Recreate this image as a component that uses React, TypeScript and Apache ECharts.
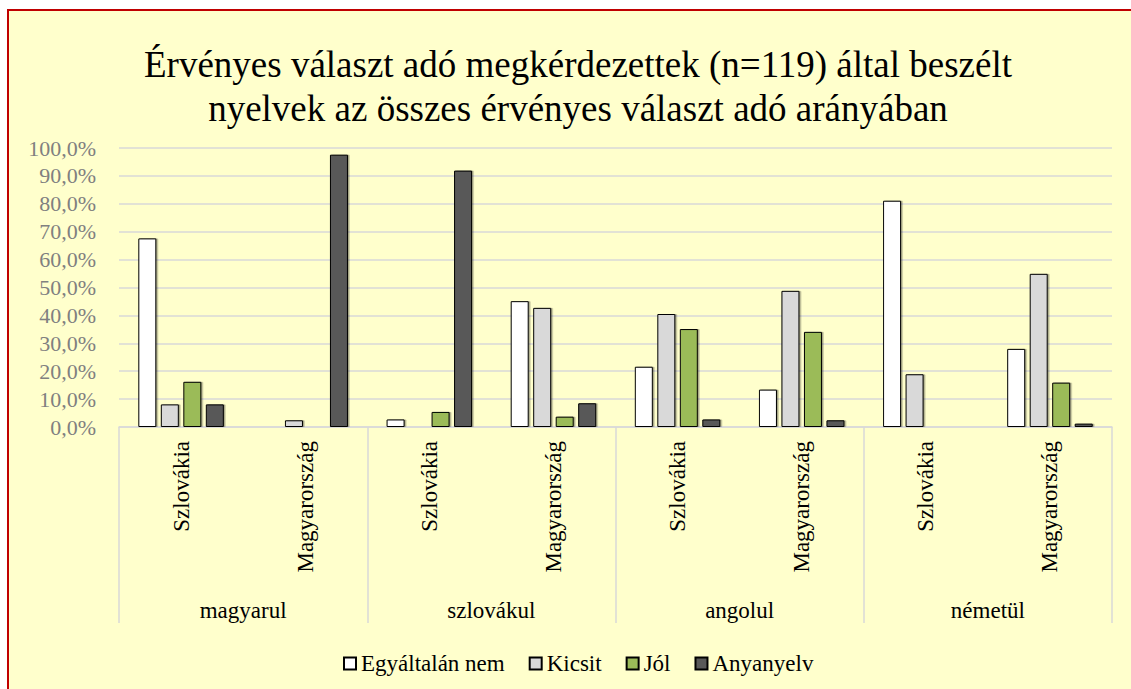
import React, { useEffect, useRef } from "react";
import * as echarts from "echarts";

const titleLines = [
  "Érvényes választ adó megkérdezettek (n=119) által beszélt",
  "nyelvek az összes érvényes választ adó arányában",
];
const groups = ["magyarul", "szlovákul", "angolul", "németül"];
const subCategories = [
  "Szlovákia", "Magyarország",
  "Szlovákia", "Magyarország",
  "Szlovákia", "Magyarország",
  "Szlovákia", "Magyarország",
];
const seriesNames = ["Egyáltalán nem", "Kicsit", "Jól", "Anyanyelv"];
const egyaltalanNem = [67.6, null, 2.7, 45.1, 21.6, 13.4, 81.1, 28.0];
const kicsit = [8.1, 2.4, null, 42.7, 40.5, 48.8, 18.9, 54.9];
const jol = [16.2, null, 5.4, 3.7, 35.1, 34.1, null, 15.9];
const anyanyelv = [8.1, 97.6, 91.9, 8.5, 2.7, 2.4, null, 1.2];
const seriesColors = ["#FFFFFF", "#D9D9D9", "#9BBB59", "#595959"];

const FONT = "'Liberation Serif', 'Times New Roman', serif";

export default function App() {
  const ref = useRef<HTMLDivElement>(null);
  useEffect(() => {
    if (!ref.current) return;
    const chart = echarts.init(ref.current, null, { renderer: "svg" });
    const values = [egyaltalanNem, kicsit, jol, anyanyelv];
    chart.setOption({
      animation: false,
      backgroundColor: "transparent",
      textStyle: { fontFamily: FONT },
      title: {
        text: titleLines.join("\n"),
        left: 573,
        top: 37,
        textAlign: "center",
        textStyle: {
          fontFamily: FONT,
          fontSize: 37,
          fontWeight: "normal",
          color: "#000000",
          lineHeight: 44,
        },
      },
      legend: {
        data: seriesNames,
        left: 338,
        top: 647,
        icon: "rect",
        itemWidth: 12,
        itemHeight: 12,
        itemGap: 24,
        textStyle: { fontFamily: FONT, fontSize: 23, color: "#000000" },
      },
      grid: { left: 119, right: 19, top: 148, bottom: 262, containLabel: false },
      xAxis: [
        {
          type: "category",
          data: subCategories,
          position: "bottom",
          axisLine: { show: true, lineStyle: { color: "#D9D9D9", width: 1.5 } },
          axisTick: { show: false },
          axisLabel: {
            rotate: 90,
            interval: 0,
            margin: 14,
            fontFamily: FONT,
            fontSize: 23,
            color: "#000000",
          },
          splitLine: { show: false },
        },
        {
          type: "category",
          data: groups,
          position: "bottom",
          offset: 0,
          axisLine: { show: false },
          axisTick: {
            show: true,
            interval: 0,
            length: 196,
            lineStyle: { color: "#D9D9D9", width: 1.5 },
          },
          axisLabel: {
            interval: 0,
            margin: 172,
            fontFamily: FONT,
            fontSize: 23,
            color: "#000000",
          },
          splitLine: { show: false },
        },
      ],
      yAxis: {
        type: "value",
        min: 0,
        max: 100,
        interval: 10,
        axisLine: { show: false },
        axisTick: { show: false },
        axisLabel: {
          margin: 23,
          fontFamily: FONT,
          fontSize: 22,
          color: "#808080",
          formatter: (v: number) => v.toFixed(1).replace(".", ",") + "%",
        },
        splitLine: { lineStyle: { color: "#D9D9D9", width: 1.5 } },
      },
      series: seriesNames.map((name, i) => ({
        name,
        type: "bar",
        xAxisIndex: 0,
        data: values[i],
        barWidth: 18,
        barGap: "25%",
        itemStyle: {
          color: seriesColors[i],
          borderColor: "#000000",
          borderWidth: 1,
          shadowColor: "rgba(0,0,0,0.35)",
          shadowBlur: 1,
          shadowOffsetX: 1.5,
          shadowOffsetY: 0,
        },
      })),
    });
    return () => chart.dispose();
  }, []);
  return (
    <div style={{ position: "fixed", left: 0, top: 0, width: 1131, height: 689, background: "#FFFFFF" }}>
      <div
        style={{
          position: "absolute",
          left: 7,
          top: 9,
          width: 1124,
          height: 680,
          background: "#FFFFCC",
          borderLeft: "2px solid #C00000",
          borderTop: "2px solid #C00000",
          boxSizing: "border-box",
        }}
      />
      <div ref={ref} style={{ position: "absolute", left: 0, top: 0, width: 1131, height: 689 }} />
    </div>
  );
}
